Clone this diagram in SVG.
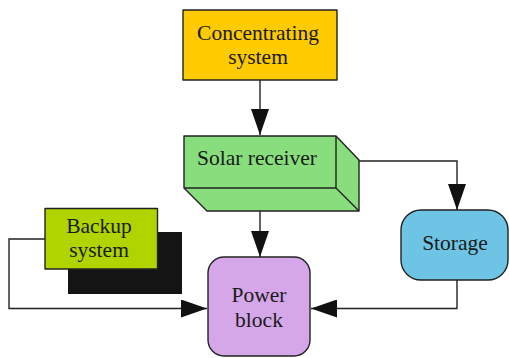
<svg xmlns="http://www.w3.org/2000/svg" width="509" height="358" viewBox="0 0 509 358">
<defs>
<style>
.box{stroke:#222;stroke-width:1.4;stroke-linejoin:round}
.lbl{font-family:"Liberation Serif","Times New Roman",serif;font-size:21.5px;fill:#1a1a1a;text-anchor:middle}
.con{fill:none;stroke:#222;stroke-width:1.4}
</style>
<marker id="ah" markerUnits="userSpaceOnUse" markerWidth="26" markerHeight="18" refX="26" refY="9" orient="auto" viewBox="0 0 26 18">
<path d="M0,0 L26,9 L0,18 z" fill="#111"/>
</marker>
</defs>
<rect width="509" height="358" fill="#fff"/>
<g id="connectors">
<path class="con" d="M260,80 V135" marker-end="url(#ah)"/>
<path class="con" d="M260,188 V257" marker-end="url(#ah)"/>
<path class="con" d="M359,161 H457 V210" marker-end="url(#ah)"/>
<path class="con" d="M45,239 H9 V308.5 H207" marker-end="url(#ah)"/>
<path class="con" d="M457,280 V308.5 H311" marker-end="url(#ah)"/>
</g>
<g id="concentrating">
<rect class="box" x="183" y="10" width="154" height="70" fill="#FDCB00"/>
<text class="lbl" x="258" y="40">Concentrating</text>
<text class="lbl" x="258" y="64">system</text>
</g>
<g id="receiver">
<path class="box" d="M184,136 H336 L359,160 V211 H207 L184,188 Z" fill="#88DE7C"/>
<path class="box" fill="none" d="M184,188 H336 V136 M336,188 L359,211"/>
<text class="lbl" x="257" y="165">Solar receiver</text>
</g>
<g id="backup">
<rect x="68" y="232" width="114" height="62" fill="#141414"/>
<rect class="box" x="45" y="208.5" width="112.5" height="60.5" fill="#AFD400"/>
<text class="lbl" x="99" y="233">Backup</text>
<text class="lbl" x="99" y="257">system</text>
</g>
<g id="storage">
<rect class="box" x="401" y="210" width="107" height="70" rx="20" ry="20" fill="#6EC4E4"/>
<text class="lbl" x="455" y="250">Storage</text>
</g>
<g id="power">
<rect class="box" x="208" y="257" width="102" height="99" rx="16" ry="16" fill="#D5A6E8"/>
<text class="lbl" x="259" y="302">Power</text>
<text class="lbl" x="259" y="327">block</text>
</g>
</svg>
